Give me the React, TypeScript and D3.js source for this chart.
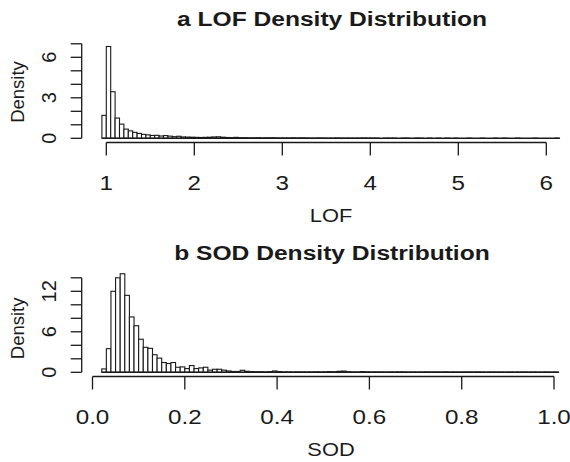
import * as d3 from "d3";

// histogram bins (density)
const LOF_BIN_START = 0.95;
const LOF_BIN_WIDTH = 0.05;
const lofDensity = [
  1.7, 6.8, 3.45, 1.5, 1.05, 0.68, 0.55, 0.44, 0.36, 0.29,
  0.25, 0.21, 0.22, 0.17, 0.2, 0.16, 0.12, 0.15, 0.1, 0.09,
  0.08, 0.07, 0.06, 0.07, 0.08, 0.1, 0.11, 0.08, 0.06, 0.05,
  0.07, 0.04, 0.04, 0.03, 0.03, 0.04, 0.03, 0.03, 0.04, 0.03,
  0.02, 0.02, 0.02, 0.03, 0.02, 0.03, 0.02, 0.01,
  0.01, 0.02, 0.01, 0.01, 0.01, 0.02, 0.01, 0.01, 0.01, 0.01,
  0.01, 0.02, 0.01, 0.01, 0.01, 0, 0.01, 0.01, 0.01, 0,
  0.01, 0.01, 0, 0.01, 0.01, 0, 0.01, 0, 0.01, 0,
  0.01, 0, 0.01, 0, 0, 0.01, 0, 0, 0.01, 0,
  0, 0.01, 0, 0.01, 0, 0, 0.01, 0, 0, 0,
  0.01, 0, 0, 0, 0, 0.01,
];
const lofXTicks = [1, 2, 3, 4, 5, 6];
const lofYTicks = [0, 1, 2, 3, 4, 5, 6, 7];
const lofYLabels = [0, 3, 6];

const SOD_BIN_START = 0.02;
const SOD_BIN_WIDTH = 0.01;
const sodDensity = [
  0.5, 3.5, 12.0, 14.0, 14.6, 11.4, 8.2, 6.9, 4.9, 3.7,
  3.55, 2.6, 2.1, 1.45, 1.3, 1.45, 0.75, 0.8, 0.55, 1.0,
  0.55, 0.65, 0.75, 0.32, 0.45, 0.45, 0.32, 0.2, 0.12, 0.12,
  0.3, 0.15, 0.1, 0.08, 0.08, 0.06, 0.1, 0.2, 0.1,
  0.05, 0.06, 0.04, 0.06, 0.05, 0.04, 0.05, 0.07, 0.05,
  0.06, 0.1, 0.08, 0.15, 0.18, 0.08, 0.05, 0.04, 0.1, 0.06,
  0.04, 0.05, 0.04, 0.03, 0.05, 0.04, 0.06, 0.05, 0.03, 0.04,
  0.03, 0.04, 0.05, 0.03, 0.04, 0.03, 0.05, 0.03, 0.04, 0.03,
  0.03, 0.04, 0.03, 0.05, 0.03, 0.02, 0.04, 0.03, 0.03, 0.02,
  0.03, 0.02, 0.03, 0.04, 0.02, 0.03, 0.02, 0.02, 0.03, 0.02,
  0.03,
];
const sodXTicks = [0, 0.2, 0.4, 0.6, 0.8, 1.0];
const sodYTicks = [0, 2, 4, 6, 8, 10, 12, 14];
const sodYLabels = [0, 6, 12];

const FONT = "'Liberation Sans', Arial, Helvetica, sans-serif";
const INK = "#1a1a1a";
const SX = 1.18; // the picture is a bit wider than tall

type PanelProps = {
  title: string;
  xLabel: string;
  density: number[];
  binStart: number;
  binWidth: number;
  xDomain: [number, number];
  xRange: [number, number];
  yDomain: [number, number];
  xTicks: number[];
  yTicks: number[];
  yLabels: number[];
  fmt: (v: number) => string;
  dy: number;
};

const Panel = ({ title, xLabel, density, binStart, binWidth, xDomain, xRange, yDomain, xTicks, yTicks, yLabels, fmt, dy }: PanelProps) => {
  const base = 138.3 + dy;
  const x = d3.scaleLinear().domain(xDomain).range(xRange);
  const y = d3.scaleLinear().domain(yDomain).range([base, 43.8 + dy]);
  const axisY = 142.5 + dy;
  const axisX = 81.7;
  const mid = 332;
  const binEnd = binStart + density.length * binWidth;

  return (
    <g fontFamily={FONT} fill={INK}>
      <text
        transform={`translate(${mid},${26 + dy}) scale(1.2,1)`}
        textAnchor="middle"
        fontWeight="bold"
        fontSize={20.5}
      >
        {title}
      </text>

      {density.map((v, i) => {
        const x0 = x(binStart + i * binWidth);
        const x1 = x(binStart + (i + 1) * binWidth);
        return (
          <rect
            key={i}
            x={x0}
            y={y(v)}
            width={x1 - x0}
            height={base - y(v)}
            fill="#fff"
            stroke={INK}
            strokeWidth={1.1}
          />
        );
      })}
      {/* bottoms of the (often empty) bins */}
      <line x1={x(binStart)} x2={x(binEnd)} y1={base} y2={base} stroke={INK} strokeWidth={1.6} />

      {/* y axis */}
      <line x1={axisX} x2={axisX} y1={y(yTicks[0])} y2={y(yTicks[yTicks.length - 1])} stroke={INK} strokeWidth={1.3} />
      {yTicks.map((t) => (
        <line key={t} x1={axisX - 11} x2={axisX} y1={y(t)} y2={y(t)} stroke={INK} strokeWidth={1.3} />
      ))}
      {yLabels.map((t) => (
        <text key={t} transform={`translate(55.5,${y(t)}) rotate(-90)`} textAnchor="middle" fontSize={20}>
          {t}
        </text>
      ))}
      <text transform={`translate(24,${92 + dy * 1.01}) rotate(-90)`} textAnchor="middle" fontSize={18.5}>
        Density
      </text>

      {/* x axis */}
      <line x1={x(xTicks[0])} x2={x(xTicks[xTicks.length - 1])} y1={axisY} y2={axisY} stroke={INK} strokeWidth={1.3} />
      {xTicks.map((t) => (
        <g key={t}>
          <line x1={x(t)} x2={x(t)} y1={axisY} y2={axisY + 13} stroke={INK} strokeWidth={1.3} />
          <text transform={`translate(${x(t)},${190 + dy}) scale(${SX},1)`} textAnchor="middle" fontSize={20.5}>
            {fmt(t)}
          </text>
        </g>
      ))}
      <text transform={`translate(${mid - 1},${222 + dy}) scale(${SX},1)`} textAnchor="middle" fontSize={18.5}>
        {xLabel}
      </text>
    </g>
  );
};

export default function App() {
  return (
    <svg
      width={570}
      height={462}
      style={{ position: "absolute", left: 0, top: 0, background: "#fff" }}
    >
      <rect width={570} height={462} fill="#fff" />
      <Panel
        title="a LOF Density Distribution"
        xLabel="LOF"
        density={lofDensity}
        binStart={LOF_BIN_START}
        binWidth={LOF_BIN_WIDTH}
        xDomain={[1, 6]}
        xRange={[106.3, 546.3]}
        yDomain={[0, 7]}
        xTicks={lofXTicks}
        yTicks={lofYTicks}
        yLabels={lofYLabels}
        fmt={(v) => String(v)}
        dy={0}
      />
      <Panel
        title="b SOD Density Distribution"
        xLabel="SOD"
        density={sodDensity}
        binStart={SOD_BIN_START}
        binWidth={SOD_BIN_WIDTH}
        xDomain={[0, 1]}
        xRange={[92.5, 554]}
        yDomain={[0, 14]}
        xTicks={sodXTicks}
        yTicks={sodYTicks}
        yLabels={sodYLabels}
        fmt={(v) => v.toFixed(1)}
        dy={234}
      />
    </svg>
  );
}
